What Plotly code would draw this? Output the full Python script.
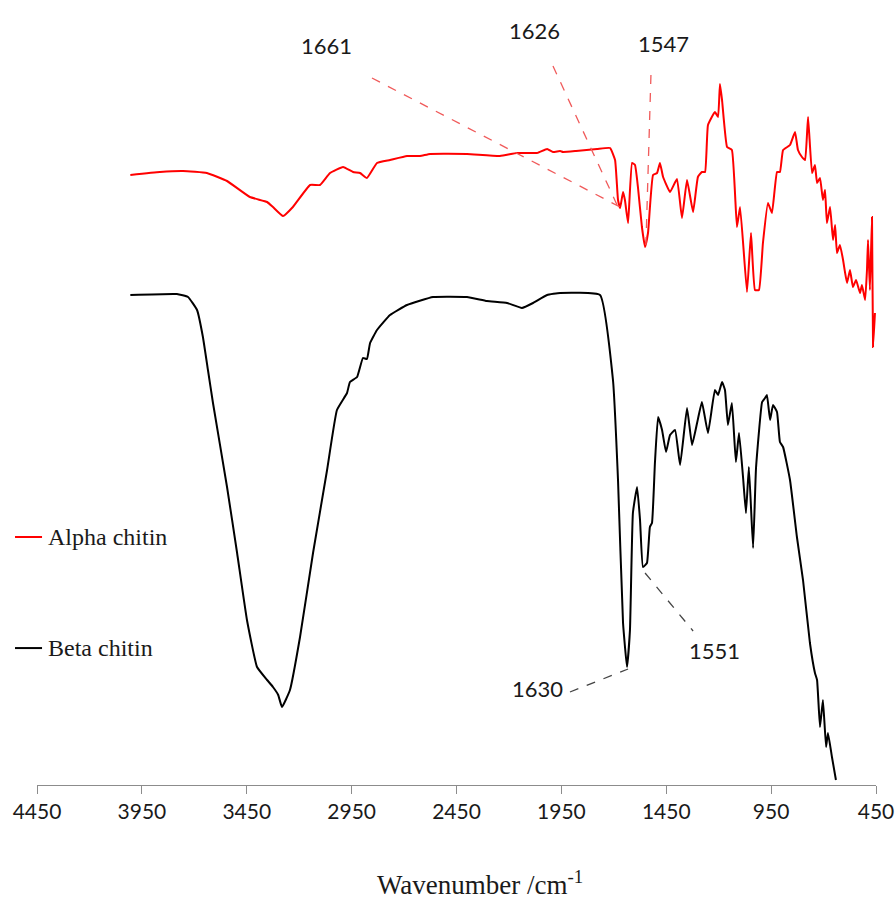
import plotly.graph_objects as go

# ---- Data (wavenumber in cm^-1, transmittance in arbitrary offset units) ----
alpha_wn = [4005, 3864, 3754, 3640, 3544, 3435, 3353, 3325, 3277, 3230, 3148, 3101,
            3053, 2991, 2943, 2910, 2877, 2829, 2767, 2686, 2624, 2576, 2400, 2243,
            2162, 2066, 2018, 1990, 1956, 1942, 1880, 1780, 1718, 1694, 1680, 1670, 1656, 1647,
            1632, 1613, 1599, 1585, 1566, 1551, 1537, 1513, 1494, 1480, 1465, 1432,
            1399, 1375, 1351, 1322, 1299, 1280, 1265, 1251, 1218, 1203, 1194, 1184,
            1160, 1137, 1113, 1098, 1065, 1046, 1027, 1008, 989, 965, 946, 922, 908,
            893, 860, 836, 822, 803, 788, 774, 755, 741, 731, 717, 703, 693, 684, 669,
            655, 645, 636, 622, 607, 598, 588, 574, 560, 545, 526, 517, 502, 493, 488,
            479, 469, 464, 455]
alpha_t = [610, 613, 614, 612, 604, 588, 583, 578, 569, 578, 600, 600,
           612, 618, 613, 612, 607, 622, 625, 629, 629, 631, 631, 629,
           632, 632, 636, 633, 634, 633, 634, 636, 637, 625, 585, 577, 593, 585,
           562, 622, 620, 598, 558, 538, 552, 610, 612, 622, 608, 593,
           606, 567, 605, 573, 608, 613, 613, 660, 673, 668, 701, 685,
           638, 635, 558, 578, 493, 552, 495, 495, 542, 582, 572, 613, 613,
           635, 640, 653, 635, 628, 625, 668, 612, 620, 602, 607, 585, 595, 562, 578,
           545, 560, 532, 540, 525, 513, 502, 515, 498, 505, 492, 500, 485, 515, 545,
           495, 568, 438, 472]

beta_wn = [4005, 3783, 3730, 3687, 3659, 3635, 3611, 3544, 3496, 3449, 3401, 3353, 3325,
           3300, 3282, 3244, 3196, 3134, 3067, 3020, 2972, 2958, 2924, 2896, 2877, 2862,
           2829, 2767, 2686, 2562, 2400, 2305, 2209, 2138, 2085, 2018, 1956, 1766,
           1704, 1680, 1656, 1637, 1623, 1609, 1589, 1575, 1561, 1542, 1528, 1518,
           1504, 1489, 1470, 1451, 1432, 1408, 1384, 1351, 1327, 1303, 1280, 1251,
           1218, 1203, 1184, 1170, 1156, 1137, 1118, 1103, 1084, 1070, 1056, 1036,
           1022, 993, 979, 970, 955, 941, 922, 908, 893, 860, 827, 798, 765, 741,
           731, 717, 703, 688, 679, 660, 641]
beta_t = [490, 491, 488, 475, 448, 415, 382, 298, 232, 165, 118, 105, 98,
          90, 78, 95, 148, 232, 315, 375, 392, 403, 408, 427, 426, 442,
          455, 470, 480, 488, 488, 484, 482, 477, 482, 490, 492, 490,
          405, 305, 162, 118, 155, 272, 298, 265, 218, 222, 258, 262,
          322, 368, 355, 333, 350, 355, 320, 377, 340, 362, 383, 352,
          395, 390, 403, 395, 360, 382, 323, 352, 308, 272, 318, 237,
          317, 383, 387, 390, 365, 380, 373, 343, 338, 305, 248, 205, 142, 112,
          105, 58, 85, 38, 52, 28, 5]

tick_vals = [4450, 3950, 3450, 2950, 2450, 1950, 1450, 950, 450]

series_names = ["Alpha chitin", "Beta chitin"]
series_colors = ["#ff0000", "#000000"]

red_peaks = ["1661", "1626", "1547"]
black_peaks = ["1630", "1551"]

# leader lines: (x0, y0, x1, y1, label_x, label_y)
red_leaders = [(2853, 707, 1661, 577, 3072, 740),
               (1990, 719, 1680, 578, 2080, 755),
               (1523, 710, 1547, 540, 1465, 742)]
black_leaders = [(1909, 93, 1632, 116, 2066, 97),
                 (1551, 212, 1322, 154, 1222, 135)]

fig = go.Figure()
fig.add_trace(go.Scatter(x=alpha_wn, y=alpha_t, mode="lines", name=series_names[0],
                         line=dict(color=series_colors[0], width=2, shape="spline",
                                   smoothing=0.35)))
fig.add_trace(go.Scatter(x=beta_wn, y=beta_t, mode="lines", name=series_names[1],
                         line=dict(color=series_colors[1], width=2, shape="spline",
                                   smoothing=0.35)))

annotations = []
shapes = []
for lab, (x0, y0, x1, y1, lx, ly) in zip(red_peaks, red_leaders):
    shapes.append(dict(type="line", xref="x", yref="y", x0=x0, y0=y0, x1=x1, y1=y1,
                       line=dict(color="#f05a5a", width=1.3, dash="dash")))
    annotations.append(dict(x=lx, y=ly, xref="x", yref="y", text=lab, showarrow=False,
                            font=dict(family="Lato", size=22, color="#1a1a1a")))
for lab, (x0, y0, x1, y1, lx, ly) in zip(black_peaks, black_leaders):
    shapes.append(dict(type="line", xref="x", yref="y", x0=x0, y0=y0, x1=x1, y1=y1,
                       line=dict(color="#444444", width=1.3, dash="dash")))
    annotations.append(dict(x=lx, y=ly, xref="x", yref="y", text=lab, showarrow=False,
                            font=dict(family="Lato", size=22, color="#1a1a1a")))

# legend drawn as line samples + text labels
legend_y = [0.3242, 0.179]
for name, col, ly in zip(series_names, series_colors, legend_y):
    shapes.append(dict(type="line", xref="paper", yref="paper",
                       x0=-0.0262, x1=0.006, y0=ly, y1=ly,
                       line=dict(color=col, width=2)))
    annotations.append(dict(x=0.0107, y=ly, xref="paper", yref="paper", text=name,
                            showarrow=False, xanchor="left", yanchor="middle",
                            font=dict(family="Liberation Serif", size=24, color="#1a1a1a")))

annotations.append(dict(x=0.528, y=-0.128, xref="paper", yref="paper",
                        text="Wavenumber /cm<sup>-1</sup>", showarrow=False,
                        yanchor="middle",
                        font=dict(family="Liberation Serif", size=27, color="#1a1a1a")))

fig.update_layout(
    width=896, height=899,
    margin=dict(l=37, r=20, t=20, b=114, autoexpand=False),
    paper_bgcolor="white", plot_bgcolor="white",
    showlegend=False,
    xaxis=dict(range=[4450, 450], tickmode="array", tickvals=tick_vals,
               ticks="outside", ticklen=8, tickwidth=1.3, tickcolor="#8c8c8c",
               showline=True, linecolor="#8c8c8c", linewidth=1.3,
               showgrid=False, zeroline=False, automargin=False,
               tickfont=dict(family="Lato", size=21, color="#1a1a1a")),
    yaxis=dict(range=[0, 765], visible=False, showgrid=False, zeroline=False,
               automargin=False),
    annotations=annotations,
    shapes=shapes,
)

fig.write_html("out.html",
               config={"displayModeBar": False},
               post_script="document.body.style.margin='0';"
                           "document.body.style.overflow='hidden';")
